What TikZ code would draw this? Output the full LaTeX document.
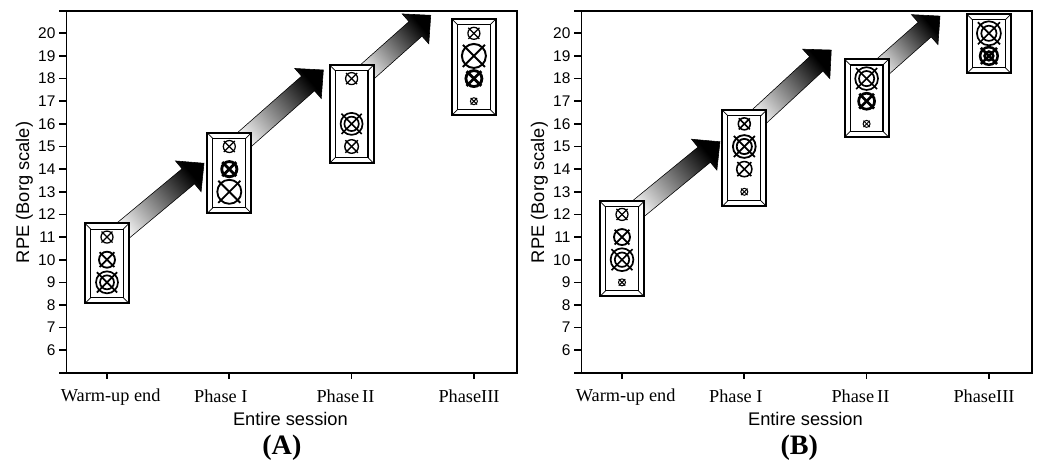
\documentclass[tikz,border=0pt]{standalone}
\usepackage{fontspec}
\setmainfont{Liberation Serif}
\setsansfont{Liberation Sans}
\usetikzlibrary{calc}

\tikzset{
  axisframe/.style={line width=1.2pt},
  boxframe/.style={line width=1.4pt,fill=white},
  boxinner/.style={line width=0.8pt},
  boxbevel/.style={line width=0.5pt},
  ticklab/.style={font=\sffamily\fontsize{11}{13}\selectfont,anchor=east,inner sep=0pt},
  catlab/.style={font=\fontsize{13}{15}\selectfont,inner sep=0pt},
  axislab/.style={font=\sffamily\fontsize{13}{15}\selectfont,inner sep=0pt},
  panellab/.style={font=\bfseries\fontsize{20}{24}\selectfont,inner sep=0pt},
  trend/.style={draw=black,thin,bottom color=gray!8,top color=black,shading angle=-50}
}

% beveled frame round one group of marks
\newcommand\bevbox[4]{%
  \coordinate (#1sw) at (#2-0.18,#3);
  \coordinate (#1ne) at (#2+0.18,#4);
  \coordinate (#1nw) at (#2-0.18,#4);
  \coordinate (#1se) at (#2+0.18,#3);
  \draw[boxframe] (#1sw) rectangle (#1ne);
  \draw[boxinner] ([shift={(0.14cm,0.14cm)}]#1sw) rectangle ([shift={(-0.14cm,-0.14cm)}]#1ne);
  \draw[boxbevel] (#1sw) -- ++(0.14cm,0.14cm) (#1ne) -- ++(-0.14cm,-0.14cm)
    (#1nw) -- ++(0.14cm,-0.14cm) (#1se) -- ++(-0.14cm,0.14cm);}

% circle with a cross: x, y, radius (cm), line width, inner radius (cm)
\newcommand\rpemark[5]{%
  \begin{scope}[shift={(#1,#2)},x=1cm,y=1cm,line width=#4]
    \draw (0,0) circle (#3);
    \ifdim #5pt>0pt \draw (0,0) circle (#5); \fi
    \draw ({-0.92*#3},{-0.92*#3}) -- ({0.92*#3},{0.92*#3});
    \draw ({-0.92*#3},{0.92*#3}) -- ({0.92*#3},{-0.92*#3});
  \end{scope}}

% thick shaded arrow from tail to tip
\newcommand\trendarrow[2]{%
  \coordinate (#1base) at ($(#2)!0.51cm!(#1)$);
  \shadedraw[trend] ($(#1)!0.244cm!90:(#2)$) -- ($(#1base)!0.244cm!90:(#2)$)
    -- ($(#1base)!0.5cm!90:(#2)$) -- (#2) -- ($(#1base)!0.5cm!-90:(#2)$)
    -- ($(#1base)!0.244cm!-90:(#2)$) -- ($(#1)!0.244cm!-90:(#2)$) -- cycle;}

\begin{document}
\begin{tikzpicture}
\useasboundingbox (0,0) rectangle (25.925,11.625);

% panel A
\begin{scope}[shift={(-0.3825,-0.5275)},x=3.0575cm,y=0.566cm]
\draw[axisframe] (0.67,5) rectangle (4.35,21);
\foreach \y in {5,...,21} \draw[axisframe] (0.61,\y) -- (0.67,\y);
\foreach \y in {6,...,20} \node[ticklab] (yA\y) at (0.58,\y) {\y};
\foreach \x in {1,...,4} \draw[axisframe] (\x,5) -- (\x,4.73);
\node[catlab] (cA1) at (1.03,3.95) {Warm-up end};
\node[catlab] (cA2) at (1.93,3.95) {Phase I};
\node[catlab] (cA3) at (2.95,3.95) {Phase\,II};
\node[catlab] (cA4) at (3.96,3.95) {PhaseIII};
\node[axislab,rotate=90] (ylabA) at (0.325,12.97) {RPE (Borg scale)};
\node[axislab] (xlabA) at (2.50,2.96) {Entire session};
\node[panellab] (panA) at (2.43,1.68) {(A)};

\coordinate (tA1) at (1.09,11.10);  \coordinate (hA1) at (1.793,14.26);
\coordinate (tA2) at (2.074,15.07); \coordinate (hA2) at (2.769,18.38);
\coordinate (tA3) at (3.076,18.05); \coordinate (hA3) at (3.647,20.795);
\trendarrow{tA1}{hA1}
\trendarrow{tA2}{hA2}
\trendarrow{tA3}{hA3}

\bevbox{bA1}{1}{8.07}{11.6}
\bevbox{bA2}{2}{12.05}{15.6}
\bevbox{bA3}{3}{14.26}{18.6}
\bevbox{bA4}{4}{16.38}{20.63}

\foreach \mx/\my/\mr/\mw/\mi in {1/11/0.15/0.9pt/0, 1/10/0.2/1.3pt/0, 1/9/0.275/1.2pt/0.175,
  2/15/0.15/0.9pt/0, 2/14/0.19/2pt/0, 2/13/0.3/1.3pt/0,
  3/18/0.15/0.9pt/0, 3/16/0.275/1.2pt/0.18, 3/15/0.17/1pt/0,
  4/20/0.15/0.9pt/0, 4/19/0.3/1.4pt/0, 4/18/0.2/2pt/0, 4/17/0.0875/0.7pt/0}
  \rpemark{\mx}{\my}{\mr}{\mw}{\mi};
\end{scope}

% panel B
\begin{scope}[shift={(12.4925,-0.5275)},x=3.0575cm,y=0.566cm]
\draw[axisframe] (0.67,5) rectangle (4.35,21);
\foreach \y in {5,...,21} \draw[axisframe] (0.61,\y) -- (0.67,\y);
\foreach \y in {6,...,20} \node[ticklab] (yB\y) at (0.58,\y) {\y};
\foreach \x in {1,...,4} \draw[axisframe] (\x,5) -- (\x,4.73);
\node[catlab] (cB1) at (1.03,3.95) {Warm-up end};
\node[catlab] (cB2) at (1.93,3.95) {Phase I};
\node[catlab] (cB3) at (2.95,3.95) {Phase\,II};
\node[catlab] (cB4) at (3.96,3.95) {PhaseIII};
\node[axislab,rotate=90] (ylabB) at (0.325,12.97) {RPE (Borg scale)};
\node[axislab] (xlabB) at (2.50,2.96) {Entire session};
\node[panellab] (panB) at (2.45,1.68) {(B)};

\coordinate (tB1) at (1.083,12.03); \coordinate (hB1) at (1.801,15.21);
\coordinate (tB2) at (2.071,16.07); \coordinate (hB2) at (2.711,19.26);
\coordinate (tB3) at (3.077,18.26); \coordinate (hB3) at (3.60,20.76);
\trendarrow{tB1}{hB1}
\trendarrow{tB2}{hB2}
\trendarrow{tB3}{hB3}

\bevbox{bB1}{1}{8.38}{12.58}
\bevbox{bB2}{2}{12.36}{16.6}
\bevbox{bB3}{3}{15.42}{18.85}
\bevbox{bB4}{4}{18.23}{20.84}

\foreach \mx/\my/\mr/\mw/\mi in {1/12/0.15/0.9pt/0, 1/11/0.2/1.3pt/0, 1/10/0.285/1.2pt/0.18, 1/9/0.0875/0.7pt/0,
  2/16/0.15/1.1pt/0, 2/15/0.285/1.3pt/0.19, 2/14/0.19/1.1pt/0, 2/13/0.0875/0.7pt/0,
  3/18/0.285/1.2pt/0.19, 3/17/0.2/1.9pt/0, 3/16/0.0875/0.7pt/0,
  4/20/0.3/1.2pt/0.19, 4/19/0.22/1.8pt/0.11}
  \rpemark{\mx}{\my}{\mr}{\mw}{\mi};
\end{scope}

\end{tikzpicture}
\end{document}
